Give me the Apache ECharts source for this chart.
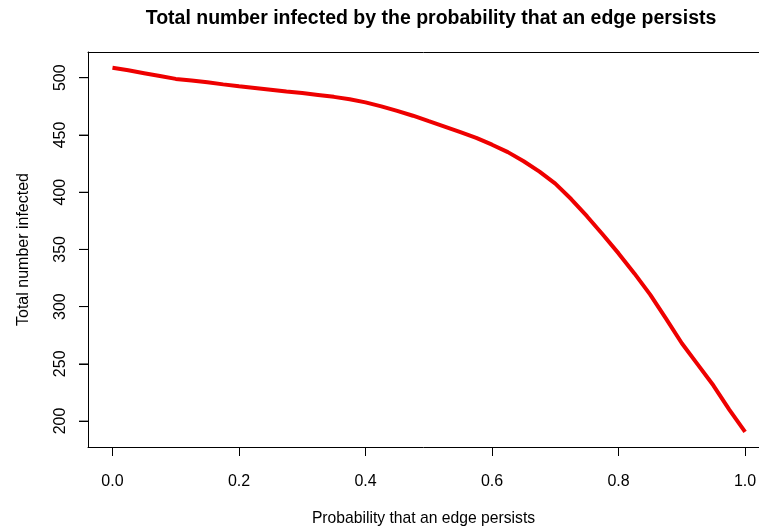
<!DOCTYPE html>
<html>
<head>
<meta charset="utf-8">
<script src="https://cdn.jsdelivr.net/npm/echarts@6/dist/echarts.min.js"></script>
<style>html,body{margin:0;padding:0;background:#fff}#c{width:759px;height:526px}</style>
</head>
<body>
<div id="c"></div>
<script>
var probability = [0.000,0.025,0.050,0.075,0.100,0.125,0.150,0.175,0.200,0.225,0.250,0.275,0.300,0.325,0.350,0.375,0.400,0.425,0.450,0.475,0.500,0.525,0.550,0.575,0.600,0.625,0.650,0.675,0.700,0.725,0.750,0.775,0.800,0.825,0.850,0.875,0.900,0.925,0.950,0.975,1.000];
var totalInfected = [508.7,506.5,504.0,501.5,499.0,497.6,496.0,494.2,492.5,491.0,489.5,488.0,486.7,485.0,483.3,481.2,478.5,475.0,471.0,466.8,462.0,457.3,452.5,447.5,441.5,435.0,427.0,418.0,407.5,394.0,379.0,363.0,346.5,329.0,310.5,289.5,268.0,249.5,231.0,210.0,190.5];
var xTicks = [0, 0.2, 0.4, 0.6, 0.8, 1.0];
var yTicks = [200, 250, 300, 350, 400, 450, 500];
var xMin = -0.0387, xMax = 1.022, yMin = 177.3, yMax = 522.5;

var chart = echarts.init(document.getElementById('c'));
var font = 'Liberation Sans, Arial, sans-serif';
chart.setOption({
  animation: false,
  backgroundColor: '#fff',
  title: {
    text: 'Total number infected by the probability that an edge persists',
    left: 426, top: 4, textAlign: 'center',
    textStyle: { fontFamily: font, fontSize: 19.5, fontWeight: 'bold', color: '#000' }
  },
  grid: { left: 88, top: 52, right: 0, bottom: 79, show: false, outerBoundsMode: 'none', containLabel: false },
  xAxis: [{
    type: 'value', min: xMin, max: xMax,
    name: 'Probability that an edge persists', nameLocation: 'middle', nameGap: 64,
    nameTextStyle: { fontFamily: font, fontSize: 15.7, color: '#000' },
    axisLine: { show: true, onZero: false, lineStyle: { color: '#000', width: 1 } },
    splitLine: { show: false },
    axisTick: { show: true, length: 9, customValues: xTicks, lineStyle: { color: '#000' } },
    axisLabel: { customValues: xTicks, margin: 27, fontFamily: font, fontSize: 16, color: '#000',
      formatter: function (v) { return v.toFixed(1); } }
  }, {
    type: 'value', position: 'top', min: xMin, max: xMax,
    axisLine: { show: true, onZero: false, lineStyle: { color: '#000', width: 1 } },
    axisTick: { show: false }, axisLabel: { show: false }, splitLine: { show: false }
  }],
  yAxis: {
    type: 'value', min: yMin, max: yMax, position: 'left',
    name: 'Total number infected', nameLocation: 'middle', nameGap: 56, nameRotate: 90,
    nameTextStyle: { fontFamily: font, fontSize: 16, color: '#000' },
    axisLine: { show: true, onZero: false, lineStyle: { color: '#000', width: 1 } },
    splitLine: { show: false },
    axisTick: { show: true, length: 9, customValues: yTicks, lineStyle: { color: '#000', width: 1 } },
    axisLabel: { customValues: yTicks, rotate: 90, margin: 19, fontFamily: font, fontSize: 16, color: '#000' }
  },
  series: [{
    type: 'line',
    xAxisIndex: 0, yAxisIndex: 0,
    data: probability.map(function (p, i) { return [p, totalInfected[i]]; }),
    showSymbol: false,
    lineStyle: { color: '#ee0000', width: 4 },
    clip: false
  }, {
    type: 'scatter',
    xAxisIndex: 0, yAxisIndex: 0,
    data: yTicks.map(function (v) { return [xMin, v]; }),
    symbol: 'rect', symbolSize: [9, 1], symbolOffset: [-4.5, 0],
    itemStyle: { color: '#000' },
    silent: true, clip: false
  }]
});
</script>
</body>
</html>
